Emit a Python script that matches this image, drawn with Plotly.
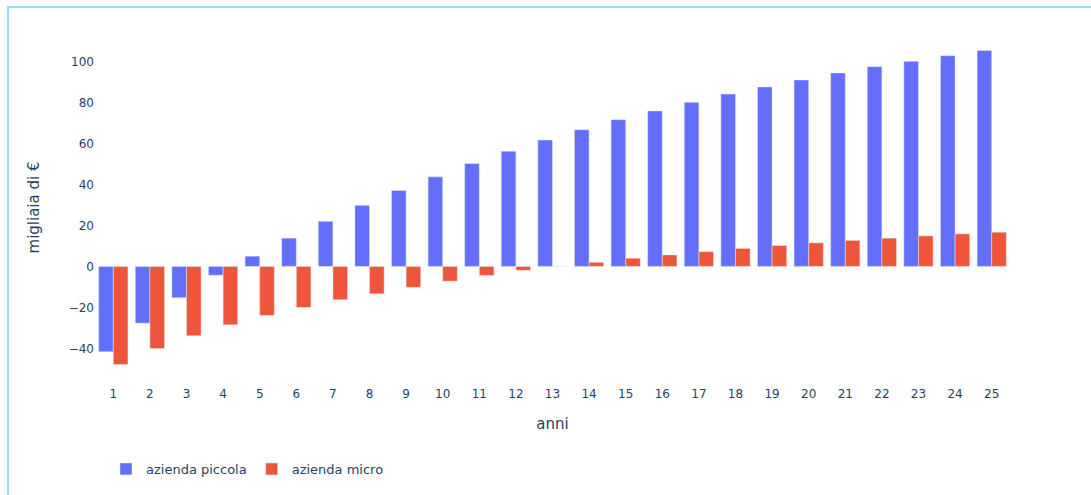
import plotly.graph_objects as go

# Years on the x axis
anni = [str(i) for i in range(1, 26)]

# Cumulative result per year, thousands of euro
azienda_piccola = [-41.7, -27.7, -15.3, -4.3, 5.0, 13.8, 22.0, 29.8, 37.1, 43.7,
                   50.2, 56.2, 61.7, 66.7, 71.6, 75.9, 80.1, 84.1, 87.6, 91.0,
                   94.4, 97.5, 100.1, 102.8, 105.4]
azienda_micro = [-47.9, -40.1, -33.8, -28.5, -23.9, -20.0, -16.3, -13.4, -10.2, -7.2,
                 -4.4, -1.9, 0.0, 2.0, 4.0, 5.6, 7.2, 8.8, 10.2, 11.5,
                 12.7, 13.8, 14.9, 15.9, 16.7]

W, H = 1091, 495
L, R, T, B = 95, 81, 33, 112
pw, ph = W - L - R, H - T - B


def px_x(px):
    return (px - L) / pw


def px_y(py):
    return (H - B - py) / ph


fig = go.Figure()
fig.add_trace(go.Bar(x=anni, y=azienda_piccola, name="azienda piccola"))
fig.add_trace(go.Bar(x=anni, y=azienda_micro, name="azienda micro"))

# light frame around the chart card
fig.add_shape(type="rect", xref="paper", yref="paper",
              x0=px_x(8), x1=px_x(1110), y0=px_y(515), y1=px_y(7),
              line=dict(color="#9fd6fb", width=2), fillcolor="rgba(0,0,0,0)",
              layer="below")

fig.update_layout(
    template="plotly",
    width=W, height=H,
    margin=dict(l=L, r=R, t=T, b=B),
    font=dict(family="DejaVu Sans, Verdana, sans-serif", color="#2a3f5f", size=12),
    plot_bgcolor="white",
    paper_bgcolor="white",
    barmode="group",
    xaxis=dict(title=dict(text="anni", font=dict(size=15), standoff=18),
               type="category", ticklabelstandoff=3),
    yaxis=dict(title=dict(text="migliaia di €", font=dict(size=15), standoff=25)),
    legend=dict(orientation="h", x=px_x(106), xanchor="left",
                y=px_y(469), yanchor="middle", font=dict(size=13)),
)

fig.write_html("out.html")
